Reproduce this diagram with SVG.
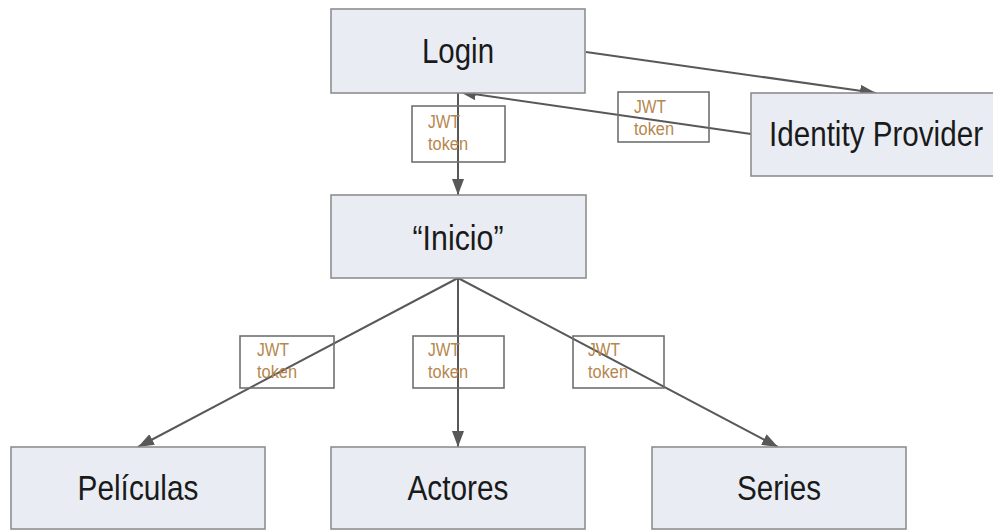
<svg xmlns="http://www.w3.org/2000/svg" width="993" height="531" viewBox="0 0 993 531">
  <defs>
    <style>
      .node rect { fill: #e9edf3; stroke: #8e8e8e; stroke-width: 1.6; }
      .node text { font-family: "Liberation Sans", Arial, sans-serif; font-size: 35px; fill: #1a1a1a; text-anchor: middle; }
      .conn line { stroke: #585858; stroke-width: 2; marker-end: url(#arrow); }
      .tag rect { fill: none; stroke: #707070; stroke-width: 1.6; }
      .tag text { font-family: "Liberation Sans", Arial, sans-serif; font-size: 18px; fill: #b5874e; }
    </style>
    <marker id="arrow" markerUnits="userSpaceOnUse" markerWidth="16" markerHeight="12" refX="16" refY="6" orient="auto">
      <path d="M0,0 L16,6 L0,12 z" fill="#585858"/>
    </marker>
  </defs>
  <rect width="993" height="531" fill="#ffffff"/>

  <!-- connectors -->
  <g id="connectors" class="conn">
    <line x1="586" y1="52" x2="876" y2="93"/>
    <line x1="751" y1="134" x2="460" y2="92"/>
    <line x1="458" y1="93" x2="458" y2="195"/>
    <line x1="458" y1="278" x2="138" y2="447"/>
    <line x1="458" y1="278" x2="458" y2="447"/>
    <line x1="458" y1="278" x2="778" y2="447"/>
  </g>

  <!-- token labels on the connectors -->
  <g id="labels" class="tag">
    <g id="tag-login-inicio">
      <rect x="412" y="106" width="93" height="56"/>
      <text x="428" y="128" textLength="32" lengthAdjust="spacingAndGlyphs">JWT</text>
      <text x="428" y="150" textLength="40" lengthAdjust="spacingAndGlyphs">token</text>
    </g>
    <g id="tag-idp-login">
      <rect x="618" y="92" width="91" height="50"/>
      <text x="634" y="113" textLength="32" lengthAdjust="spacingAndGlyphs">JWT</text>
      <text x="634" y="135" textLength="40" lengthAdjust="spacingAndGlyphs">token</text>
    </g>
    <g id="tag-peliculas">
      <rect x="240" y="336" width="94" height="52"/>
      <text x="257" y="356" textLength="32" lengthAdjust="spacingAndGlyphs">JWT</text>
      <text x="257" y="378" textLength="40" lengthAdjust="spacingAndGlyphs">token</text>
    </g>
    <g id="tag-actores">
      <rect x="413" y="336" width="91" height="52"/>
      <text x="428" y="356" textLength="32" lengthAdjust="spacingAndGlyphs">JWT</text>
      <text x="428" y="378" textLength="40" lengthAdjust="spacingAndGlyphs">token</text>
    </g>
    <g id="tag-series">
      <rect x="573" y="336" width="91" height="52"/>
      <text x="588" y="356" textLength="32" lengthAdjust="spacingAndGlyphs">JWT</text>
      <text x="588" y="378" textLength="40" lengthAdjust="spacingAndGlyphs">token</text>
    </g>
  </g>

  <!-- nodes -->
  <g id="login" class="node">
    <rect x="331" y="9" width="254" height="84"/>
    <text x="458" y="63" textLength="72" lengthAdjust="spacingAndGlyphs">Login</text>
  </g>
  <g id="identity-provider" class="node">
    <rect x="751" y="93" width="252" height="83"/>
    <text x="876" y="146" textLength="214" lengthAdjust="spacingAndGlyphs">Identity Provider</text>
  </g>
  <g id="inicio" class="node">
    <rect x="331" y="195" width="255" height="83"/>
    <text x="458" y="250" textLength="91" lengthAdjust="spacingAndGlyphs">“Inicio”</text>
  </g>
  <g id="peliculas" class="node">
    <rect x="11" y="447" width="254" height="82"/>
    <text x="138" y="500" textLength="121" lengthAdjust="spacingAndGlyphs">Películas</text>
  </g>
  <g id="actores" class="node">
    <rect x="331" y="447" width="254" height="82"/>
    <text x="458" y="500" textLength="101" lengthAdjust="spacingAndGlyphs">Actores</text>
  </g>
  <g id="series" class="node">
    <rect x="652" y="447" width="254" height="82"/>
    <text x="779" y="500" textLength="84" lengthAdjust="spacingAndGlyphs">Series</text>
  </g>
</svg>
